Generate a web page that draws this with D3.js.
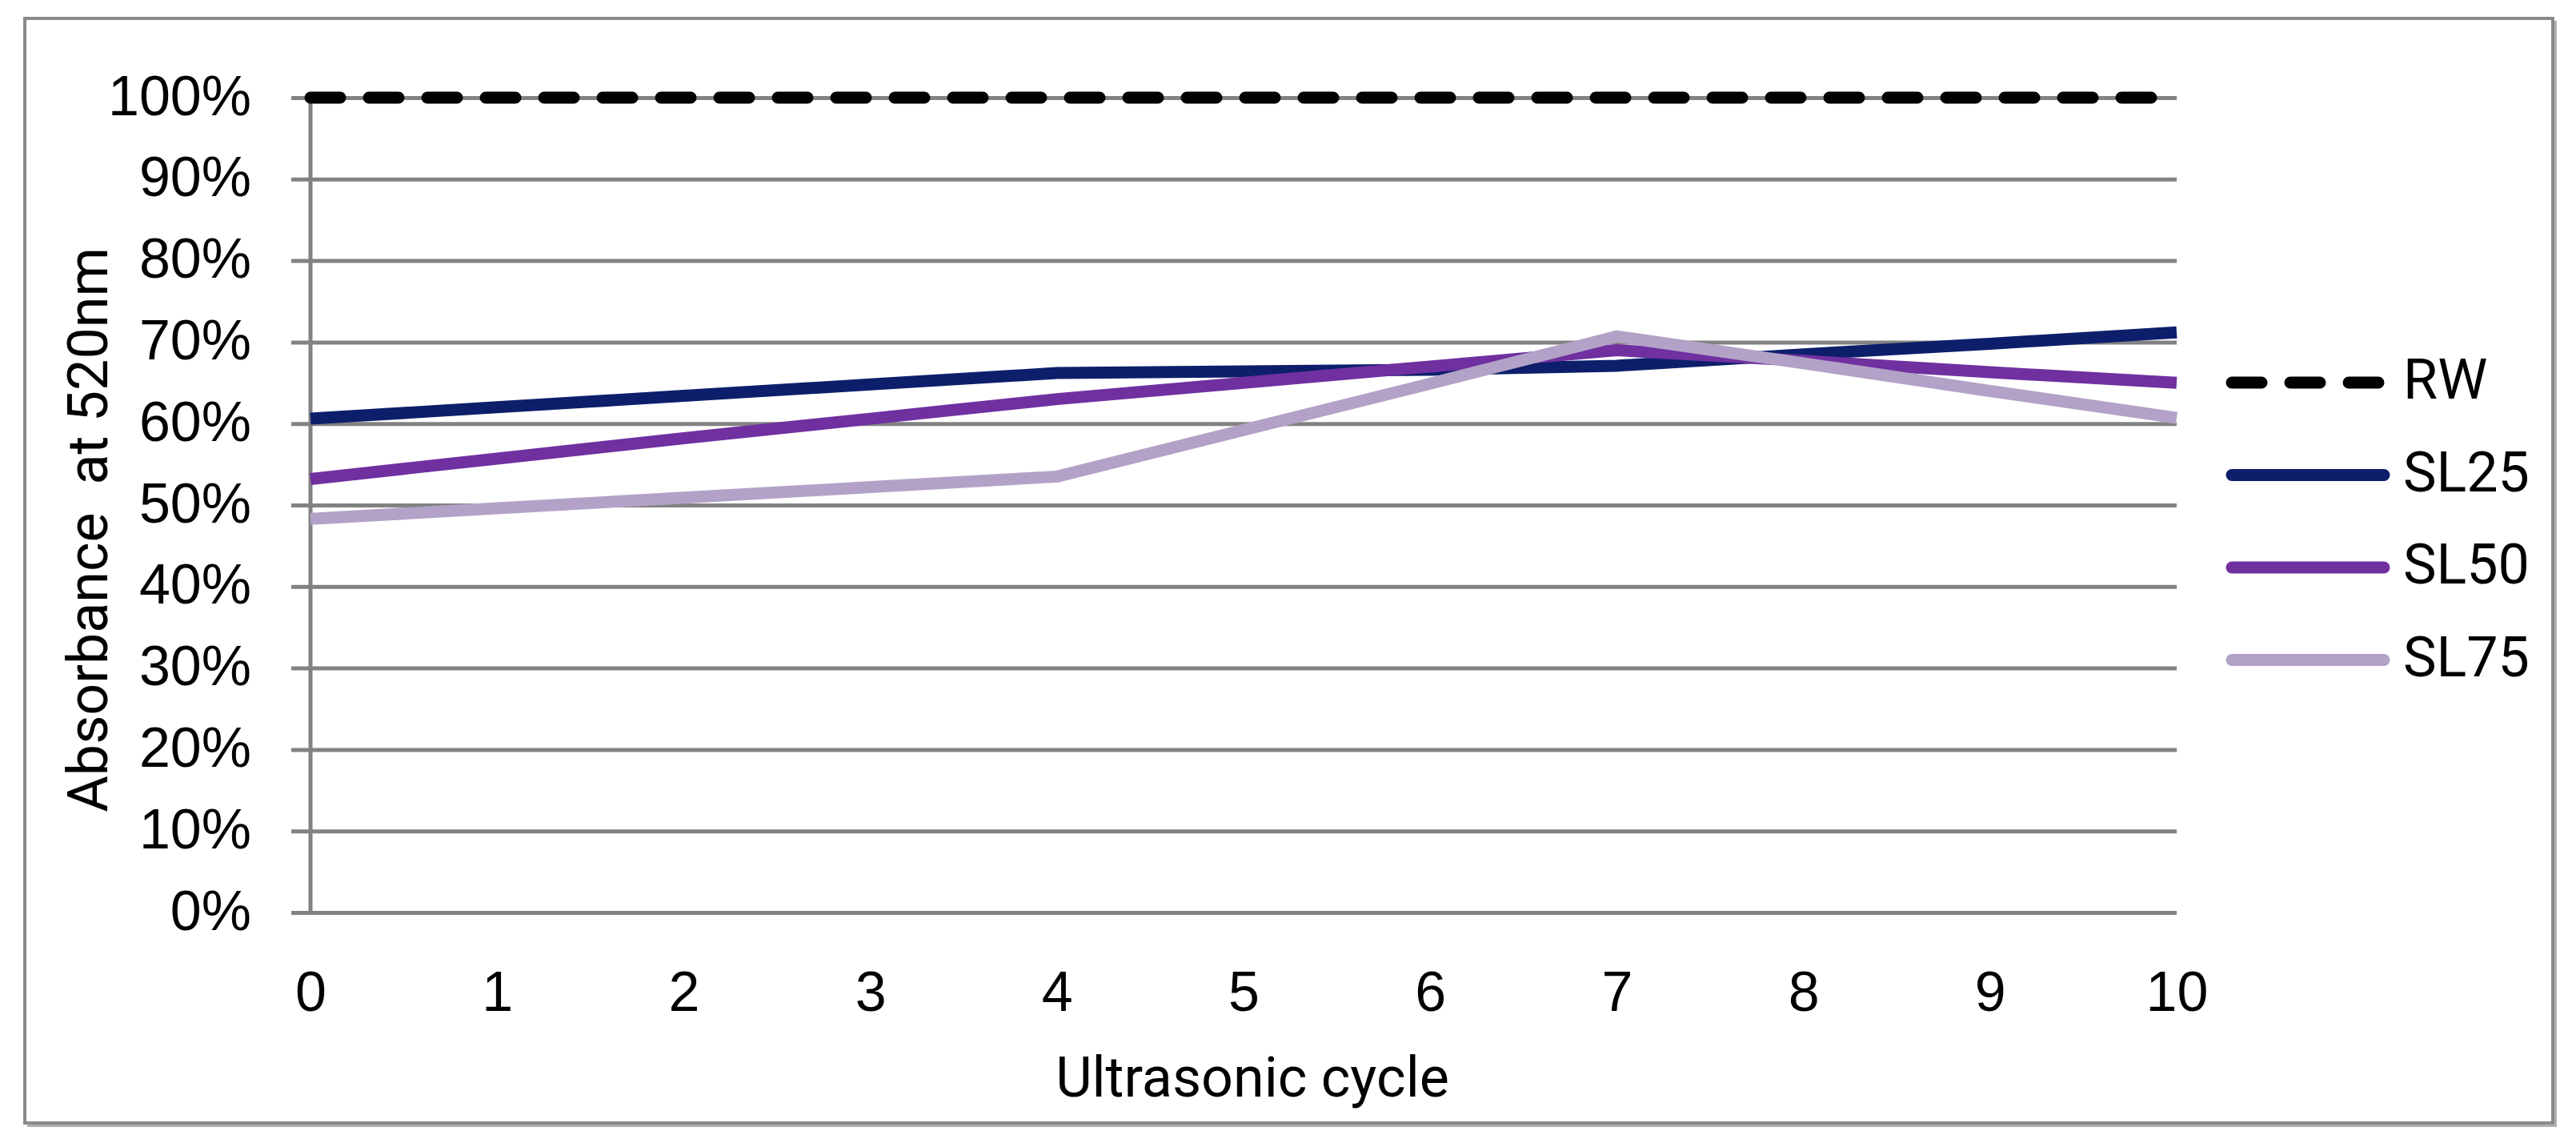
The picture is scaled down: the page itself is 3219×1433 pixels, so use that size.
<!DOCTYPE html>
<html>
<head>
<meta charset="utf-8">
<script src="https://cdn.jsdelivr.net/npm/d3@7"></script>
<style>
    body { margin: 0; background: #fff; }
    svg { display: block; font-family: Roboto, "Noto Sans", sans-serif; }
</style>
</head>
<body>
<svg class="chart"></svg>
<script>
var cycles = [0, 1, 2, 3, 4, 5, 6, 7, 8, 9, 10];
var seriesNames = ["RW", "SL25", "SL50", "SL75"];
var rw   = [1.00, 1.00, 1.00, 1.00, 1.00, 1.00, 1.00, 1.00, 1.00, 1.00, 1.00];
var sl25 = [0.606, 0.620, 0.634, 0.648, 0.662, 0.664, 0.666, 0.671, 0.685, 0.698, 0.712];
var sl50 = [0.532, 0.557, 0.582, 0.606, 0.630, 0.650, 0.670, 0.690, 0.677, 0.663, 0.650];
var sl75 = [0.483, 0.496, 0.509, 0.522, 0.535, 0.592, 0.649, 0.707, 0.674, 0.640, 0.607];
var yTicks = [0, 0.1, 0.2, 0.3, 0.4, 0.5, 0.6, 0.7, 0.8, 0.9, 1.0];

var width = 3219,
    height = 1433;

// note: "top" is taken by window.top, so use plot* names
var plotLeft = 388, plotRight = 2720,
    plotTop = 122, plotBottom = 1140;

var colors = {"RW": "#000000", "SL25": "#0d1f6b", "SL50": "#7030a0", "SL75": "#b3a2c7"};

var series = [
    {name: "RW", values: rw},
    {name: "SL25", values: sl25},
    {name: "SL50", values: sl50},
    {name: "SL75", values: sl75}
];

var x = d3.scaleLinear().domain([0, 10]).range([plotLeft, plotRight]);
var y = d3.scaleLinear().domain([0, 1]).range([plotBottom, plotTop]);

var chart = d3.select(".chart")
    .attr("width", width)
    .attr("height", height);

// outer frame, with a slight shadow bottom/right
chart.append("path")
    .attr("d", "M34,1406H3193V26")
    .attr("fill", "none")
    .attr("stroke", "#b0b0b0")
    .attr("stroke-width", 4);

chart.append("rect")
    .attr("x", 31)
    .attr("y", 23)
    .attr("width", 3159)
    .attr("height", 1380)
    .attr("fill", "#fff")
    .attr("stroke", "#8a8a8a")
    .attr("stroke-width", 4);

// horizontal gridlines + y labels
var yAxis = chart.append("g")
    .attr("transform", "translate(364,0)")
    .call(d3.axisLeft(y)
        .tickValues(yTicks)
        .tickSizeInner(-(plotRight - 364))
        .tickSizeOuter(0)
        .tickPadding(50)
        .tickFormat(d3.format(".0%")));

yAxis.select(".domain").remove();
yAxis.selectAll(".tick line")
    .attr("stroke", "#828282")
    .attr("stroke-width", 5);
yAxis.selectAll(".tick text")
    .attr("font-size", 70)
    .attr("fill", "#000")
    .attr("dy", "0.3em");

// vertical axis line
chart.append("line")
    .attr("x1", plotLeft).attr("x2", plotLeft)
    .attr("y1", plotTop).attr("y2", plotBottom)
    .attr("stroke", "#828282")
    .attr("stroke-width", 5);

// x labels
var xAxis = chart.append("g")
    .attr("transform", "translate(0," + plotBottom + ")")
    .call(d3.axisBottom(x)
        .tickValues(cycles)
        .tickSize(0)
        .tickPadding(73)
        .tickFormat(d3.format("d")));

xAxis.select(".domain").remove();
xAxis.selectAll(".tick text")
    .attr("font-size", 70)
    .attr("fill", "#000");

// axis titles
chart.append("text")
    .attr("x", 1565)
    .attr("y", 1370)
    .attr("text-anchor", "middle")
    .attr("font-size", 70)
    .text("Ultrasonic cycle");

chart.append("text")
    .attr("transform", "translate(134,662) rotate(-90)")
    .attr("text-anchor", "middle")
    .attr("font-size", 70)
    .style("white-space", "pre")
    .text("Absorbance  at 520nm");

// lines
var line = d3.line()
    .x(function(d, i) { return x(cycles[i]); })
    .y(function(d) { return y(d); });

var drawOrder = ["SL25", "SL50", "SL75", "RW"];

chart.selectAll("path.series")
    .data(drawOrder.map(function(n) { return series[seriesNames.indexOf(n)]; }))
    .enter().append("path")
    .attr("class", "series")
    .attr("d", function(d) { return line(d.values); })
    .attr("fill", "none")
    .attr("stroke", function(d) { return colors[d.name]; })
    .attr("stroke-width", 15)
    .attr("stroke-linejoin", "round")
    .attr("stroke-linecap", function(d) { return d.name === "RW" ? "round" : "butt"; })
    .attr("stroke-dasharray", function(d) { return d.name === "RW" ? "37,36" : null; });

// legend
var legend = chart.selectAll("g.legend")
    .data(series)
    .enter().append("g")
    .attr("class", "legend")
    .attr("transform", function(d, i) { return "translate(0," + (478 + i * 115.5) + ")"; });

legend.append("line")
    .attr("x1", 2789)
    .attr("x2", 2979)
    .attr("stroke", function(d) { return colors[d.name]; })
    .attr("stroke-width", 15)
    .attr("stroke-linecap", "round")
    .attr("stroke-dasharray", function(d) { return d.name === "RW" ? "37,36" : null; });

legend.append("text")
    .attr("x", 3003)
    .attr("y", 20)
    .attr("font-size", 70)
    .attr("fill", "#000")
    .text(function(d) { return d.name; });
</script>
</body>
</html>
